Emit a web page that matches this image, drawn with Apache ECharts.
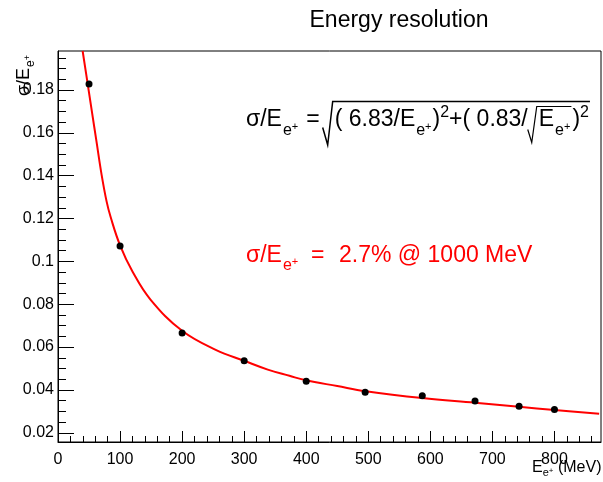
<!DOCTYPE html>
<html><head><meta charset="utf-8">
<script src="https://cdn.jsdelivr.net/npm/echarts@6/dist/echarts.min.js"></script>
<style>html,body{margin:0;padding:0;background:#fff}#c{width:603px;height:482px}</style>
</head><body><div id="c"></div>
<script>
// measured points
const energies = [50, 100, 200, 300, 400, 495, 587, 672, 743, 800];
const resolution = [0.1828, 0.1072, 0.0666, 0.0536, 0.0441, 0.0389, 0.0373, 0.0348, 0.0324, 0.0309];
// fitted curve
const fitE = [39.7, 48, 55, 62, 70.3, 78.3, 84.7, 100, 120, 149, 200, 255, 300, 338, 373, 398, 450, 496, 587, 672, 743, 800, 872];
const fitRes = [0.1982, 0.1825, 0.1692, 0.1560, 0.1404, 0.1280, 0.1208, 0.1075, 0.0953, 0.0822, 0.0676, 0.0586, 0.0536, 0.0495, 0.0466, 0.0446, 0.0418, 0.0394, 0.0362, 0.0340, 0.0321, 0.0306, 0.0289];
// ticks
const xTicks = [0, 100, 200, 300, 400, 500, 600, 700, 800];
const xMinor = [20,40,60,80,120,140,160,180,220,240,260,280,320,340,360,380,420,440,460,480,520,540,560,580,620,640,660,680,720,740,760,780,820,840,860];
const yTicks = [0.02, 0.04, 0.06, 0.08, 0.1, 0.12, 0.14, 0.16, 0.18];
const yMinor = [0.025,0.03,0.035,0.045,0.05,0.055,0.065,0.07,0.075,0.085,0.09,0.095,0.105,0.11,0.115,0.125,0.13,0.135,0.145,0.15,0.155,0.165,0.17,0.175,0.185,0.19,0.195];
const X_MIN = 0, X_MAX = 875, Y_MIN = 0.0157, Y_MAX = 0.1982;

const FF = '"Liberation Sans", Arial, Helvetica, sans-serif';
const meas = document.createElement('canvas').getContext('2d');
function tw(t, s) { meas.font = s + 'px ' + FF; return meas.measureText(t).width; }
function bOff(s) {
  meas.font = s + 'px ' + FF; meas.textBaseline = 'middle';
  const m = meas.measureText('H'); meas.textBaseline = 'alphabetic';
  return m.actualBoundingBoxDescent;
}
function seg(els, t, x, base, s, color) {
  els.push({type: 'text', x: x, y: base - bOff(s), silent: true,
    style: {text: t, fontSize: s, fontFamily: FF, fill: color,
      align: 'left', verticalAlign: 'middle', textAlign: 'left', textVerticalAlign: 'middle'}});
  return x + tw(t, s);
}
const G = [];
// Title
(function(){
  const s = 23, w = tw('Energy resolution', s);
  seg(G, 'Energy resolution', 399 - w / 2, 26.7, s, '#000');
})();
// Black formula
(function(){
  const S = 23, SUB = 16, TINY = 11, SUP = 16, c = '#000';
  const base = 125.5;
  let x = 246;
  x = seg(G, 'σ/E', x, base, S, c);
  x = seg(G, 'e', x + 1, base + 9, SUB, c);
  x = seg(G, '+', x, base + 4, TINY, c);
  x = seg(G, '=', x + 8, base, S, c);
  const r = x + 3;
  x = r + 12;
  x = seg(G, '( 6.83/E', x, base, S, c);
  x = seg(G, 'e', x + 1, base + 9, SUB, c);
  x = seg(G, '+', x, base + 4, TINY, c);
  x = seg(G, ')', x + 1, base, S, c);
  x = seg(G, '2', x, base - 9, SUP, c);
  x = seg(G, '+( 0.83/', x, base, S, c);
  const r2 = x;
  x = r2 + 11;
  x = seg(G, 'E', x, base, S, c);
  x = seg(G, 'e', x + 1, base + 9, SUB, c);
  x = seg(G, '+', x, base + 4, TINY, c);
  const r2end = x + 1;
  x = seg(G, ')', x + 2, base, S, c);
  x = seg(G, '2', x, base - 9, SUP, c);
  const rend = x + 1;
  G.push({type: 'polyline', silent: true, shape: {points: [[r, base + 2], [r + 5, base + 19.5], [r + 10, base - 24], [rend, base - 24]]}, style: {stroke: c, lineWidth: 1.5, fill: null}});
  G.push({type: 'polyline', silent: true, shape: {points: [[r2, base + 4], [r2 + 4, base + 17], [r2 + 9, base - 19], [r2end, base - 19]]}, style: {stroke: c, lineWidth: 1.2, fill: null}});
})();
// Red formula
(function(){
  const S = 23, SUB = 16, TINY = 11, c = '#ff0000';
  const base = 262;
  let x = 246;
  x = seg(G, 'σ/E', x, base, S, c);
  x = seg(G, 'e', x + 1, base + 8, SUB, c);
  x = seg(G, '+', x, base + 3, TINY, c);
  seg(G, '=', 311, base, S, c);
  seg(G, '2.7% @ 1000 MeV', 339, base, S, c);
})();
// X-axis title
(function(){
  const s = 16, sub = 11, tiny = 8, c = '#000', base = 472;
  const total = tw('E', s) + tw('e', sub) + tw('+', tiny) + tw(' (MeV)', s);
  let x = 601.5 - total;
  x = seg(G, 'E', x, base, s, c);
  x = seg(G, 'e', x, base + 4, sub, c);
  x = seg(G, '+', x, base + 1, tiny, c);
  seg(G, ' (MeV)', x, base, s, c);
})();
// Y-axis title (rotated)
(function(){
  const s = 18, sub = 12, tiny = 9, c = '#000';
  const kids = [];
  let x = 0;
  x = seg(kids, 'σ/E', x, 0, s, c);
  x = seg(kids, 'e', x + 1, 5, sub, c);
  x = seg(kids, '+', x, 1, tiny, c);
  G.push({type: 'group', x: 28.5, y: 96, rotation: Math.PI / 2, children: kids});
})();

const axisCommon = {type: 'value', splitLine: {show: false}};
const option = {
  animation: false,
  backgroundColor: '#fff',
  grid: {left: 58, top: 51, right: 2, bottom: 40, show: true, borderColor: '#000', borderWidth: 1, backgroundColor: 'transparent'},
  xAxis: [
    Object.assign({}, axisCommon, {min: X_MIN, max: X_MAX, position: 'bottom',
      axisLine: {show: true, onZero: false, lineStyle: {color: '#000', width: 1}},
      axisTick: {show: true, inside: true, length: 11, customValues: xTicks, lineStyle: {color: '#000', width: 1}},
      axisLabel: {show: true, customValues: xTicks, fontSize: 16, fontFamily: FF, color: '#000', margin: 10,
        formatter: v => String(v)}}),
    Object.assign({}, axisCommon, {min: X_MIN, max: X_MAX, position: 'bottom', offset: 0,
      axisLine: {show: false, onZero: false},
      axisTick: {show: true, inside: true, length: 6, customValues: xMinor, lineStyle: {color: '#000', width: 1}},
      axisLabel: {show: false}})
  ],
  yAxis: [
    Object.assign({}, axisCommon, {min: Y_MIN, max: Y_MAX, position: 'left',
      axisLine: {show: true, onZero: false, lineStyle: {color: '#000', width: 1}},
      axisTick: {show: true, inside: true, length: 16, customValues: yTicks, lineStyle: {color: '#000', width: 1}},
      axisLabel: {show: true, customValues: yTicks, fontSize: 16, fontFamily: FF, color: '#000', margin: 4,
        formatter: v => String(parseFloat((+v).toFixed(3)))}}),
    Object.assign({}, axisCommon, {min: Y_MIN, max: Y_MAX, position: 'left', offset: 0,
      axisLine: {show: false, onZero: false},
      axisTick: {show: true, inside: true, length: 8, customValues: yMinor, lineStyle: {color: '#000', width: 1}},
      axisLabel: {show: false}})
  ],
  series: [
    {type: 'line', xAxisIndex: 0, yAxisIndex: 0, data: fitE.map((e, i) => [e, fitRes[i]]),
      showSymbol: false, smooth: 0.4, clip: true,
      lineStyle: {color: '#ff0000', width: 2}, z: 2, silent: true},
    {type: 'scatter', xAxisIndex: 0, yAxisIndex: 0, data: energies.map((e, i) => [e, resolution[i]]),
      symbol: 'circle', symbolSize: 7, itemStyle: {color: '#000', opacity: 1}, z: 3, silent: true}
  ],
  graphic: G
};
const chart = echarts.init(document.getElementById('c'), null, {renderer: 'canvas'});
chart.setOption(option);
</script>
</body></html>
